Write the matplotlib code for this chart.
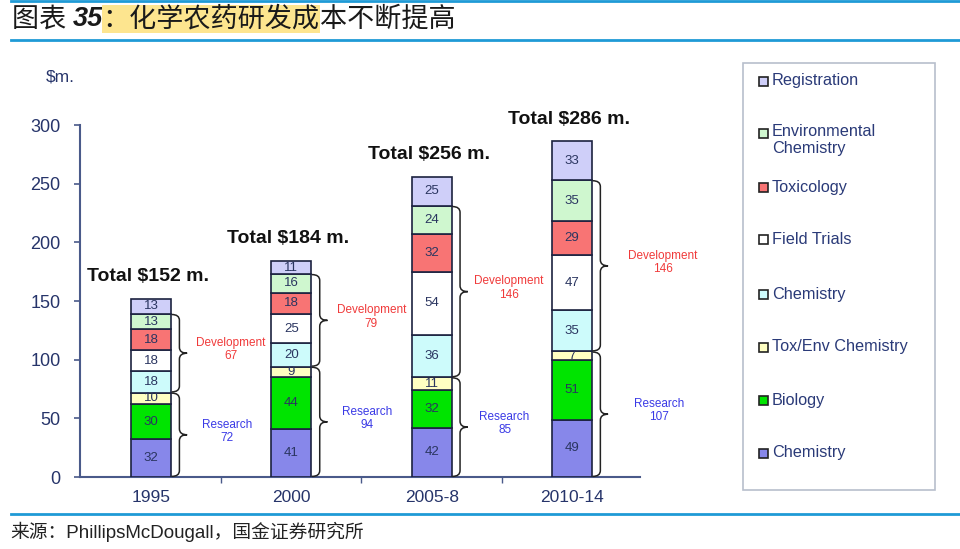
import matplotlib
matplotlib.use('Agg')
import matplotlib.pyplot as plt
from matplotlib.patches import Rectangle, PathPatch
from matplotlib.path import Path
from matplotlib.lines import Line2D
import numpy as np

# ---------------- data ----------------
categories = ['1995', '2000', '2005-8', '2010-14']
chem_research = [32, 41, 42, 49]
biology = [30, 44, 32, 51]
tox_env_chem = [10, 9, 11, 7]
chem_dev = [18, 20, 36, 35]
field_trials = [18, 25, 54, 47]
toxicology = [18, 18, 32, 29]
env_chem = [13, 16, 24, 35]
registration = [13, 11, 25, 33]
y_ticks = [0, 50, 100, 150, 200, 250, 300]

series = [chem_research, biology, tox_env_chem, chem_dev,
          field_trials, toxicology, env_chem, registration]
series_names = ['Chemistry', 'Biology', 'Tox/Env Chemistry', 'Chemistry',
                'Field Trials', 'Toxicology', 'Environmental\nChemistry', 'Registration']
colors = ['#8787ea', '#00e400', '#ffffc2', '#cdfbfb', '#ffffff',
          '#f87474', '#cff7cf', '#cfcff9']

research_tot = [a + b + c for a, b, c in zip(chem_research, biology, tox_env_chem)]
dev_tot = [a + b + c + d for a, b, c, d in zip(chem_dev, field_trials, toxicology, env_chem)]
totals = [r + d + g for r, d, g in zip(research_tot, dev_tot, registration)]

# ---------------- style ----------------
W, H = 960, 549
fig = plt.figure(figsize=(9.6, 5.49), dpi=100)
fig.patch.set_facecolor('white')

def fx(px):
    return px / W

def fy(py):
    return 1 - py / H

ax = fig.add_axes([fx(80), fy(477), fx(640) - fx(80), fy(125) - fy(477)])
tick_col = '#26346a'
edge = '#1c2240'
base_font = ['Liberation Sans', 'DejaVu Sans']

x = np.arange(len(categories))
bw = 0.285
bottom = np.zeros(len(categories))
for vals, col in zip(series, colors):
    ax.bar(x, vals, bw, bottom=bottom, color=col, edgecolor=edge, linewidth=1.2, zorder=3)
    for xi, b, v in zip(x, bottom, vals):
        ax.text(xi, b + v / 2, str(v), ha='center', va='center', fontsize=9.5,
                color='#2a3560', family=base_font, zorder=4)
    bottom = bottom + np.array(vals)

ax.set_xlim(-0.506, 3.485)
ax.set_ylim(0, 300)
ax.set_yticks(y_ticks)
ax.set_yticklabels([str(t) for t in y_ticks], family=base_font, fontsize=13, color=tick_col)
ax.set_xticks(x)
ax.set_xticklabels(categories, family=base_font, fontsize=12.5, color=tick_col)
ax.tick_params(axis='x', length=0, pad=9)
ax.tick_params(axis='y', length=4, width=1.2, color='#4a5a8a', pad=10, direction='out')
ax.set_xticks([0.5, 1.5, 2.5], minor=True)
ax.tick_params(axis='x', which='minor', length=4, width=1, color='#4a5a8a', direction='out')
for s in ['top', 'right']:
    ax.spines[s].set_visible(False)
for s in ['left', 'bottom']:
    ax.spines[s].set_color('#4a5a8a')
    ax.spines[s].set_linewidth(1.5)
ax.set_facecolor('white')

# $m. label
fig.text(fx(60), fy(77), '$m.', ha='center', va='center', fontsize=12.5,
         color=tick_col, family=base_font)

# totals
for xi, t in zip(x, totals):
    ax.annotate(f'Total ${t} m.', (xi, t), xytext=(-2, 10), textcoords='offset points',
                ha='center', va='bottom', fontsize=14, fontweight='bold',
                color='#111111', family=base_font, annotation_clip=False)

# braces
def brace(ax, x0, y0, y1, w, r):
    ym = (y0 + y1) / 2
    xm = x0 + w / 2
    verts = [(x0, y0), (xm, y0), (xm, y0 + r),
             (xm, ym - r), (xm, ym), (x0 + w, ym),
             (xm, ym), (xm, ym + r),
             (xm, y1 - r), (xm, y1), (x0, y1)]
    codes = [Path.MOVETO, Path.CURVE3, Path.CURVE3,
             Path.LINETO, Path.CURVE3, Path.CURVE3,
             Path.CURVE3, Path.CURVE3,
             Path.LINETO, Path.CURVE3, Path.CURVE3]
    p = PathPatch(Path(verts, codes), fill=False, edgecolor='#222222', lw=1.1,
                  zorder=5, clip_on=False)
    ax.add_patch(p)
    return ym

label_off = [0.54, 0.54, 0.52, 0.62]
for xi, rt, dt, off in zip(x, research_tot, dev_tot, label_off):
    x0 = xi + bw / 2 + 0.005
    ym = brace(ax, x0, 0.5, rt - 0.5, 0.11, 5)
    ax.text(xi + off, ym + 3, f'Research\n{rt}', ha='center', va='center', fontsize=8.5,
            color='#3a3ae6', family=base_font, linespacing=1.15)
    ym = brace(ax, x0, rt + 0.5, rt + dt - 0.5, 0.11, 5)
    ax.text(xi + off + 0.03, ym + 3, f'Development\n{dt}', ha='center', va='center',
            fontsize=8.5, color='#f03a3a', family=base_font, linespacing=1.15, clip_on=False)

# ---------------- legend (manual) ----------------
fig.add_artist(Rectangle((fx(743), fy(490)), fx(935) - fx(743), fy(63) - fy(490),
                         transform=fig.transFigure, facecolor='white',
                         edgecolor='#b8bfcc', lw=1.2))
leg_y = [453, 400, 347, 294, 240, 187, 133, 81]
for name, col, ly in zip(series_names, colors, leg_y):
    fig.add_artist(Rectangle((fx(759), fy(ly + 4.5)), fx(768) - fx(759), fy(ly - 4.5) - fy(ly + 4.5),
                             transform=fig.transFigure, facecolor=col,
                             edgecolor='#222222', lw=1.2))
    if '\n' in name:
        fig.text(fx(772), fy(ly - 9), name, ha='left', va='top', fontsize=11.7,
                 color='#2a3a78', family=base_font, linespacing=1.2)
    else:
        fig.text(fx(772), fy(ly), name, ha='left', va='center', fontsize=11.7,
                 color='#2a3a78', family=base_font)

# ---------------- title / frame lines / source ----------------
line_col = '#1f9ad6'
for py in [1, 40, 514]:
    fig.add_artist(Line2D([fx(11), 1], [fy(py), fy(py)], transform=fig.transFigure,
                          color=line_col, lw=2))

cjk = ['Noto Sans CJK SC', 'DejaVu Sans']
fig.canvas.draw()
rend = fig.canvas.get_renderer()
tx = fx(12)
ty = fy(19)
pieces = [('图表 ', None, 'normal', cjk), ('35', None, 'bold', ['Liberation Sans']),
          ('：化学农药研发成', '#fde58f', 'normal', cjk), ('本不断提高', None, 'normal', cjk)]
for txt, bg, wt, fam in pieces:
    t = fig.text(tx, ty, txt, ha='left', va='center', fontsize=19.5, fontweight=wt,
                 color='#1a1a1a', family=fam, fontstyle='italic')
    if bg:
        t.set_bbox(dict(facecolor=bg, edgecolor='none', pad=0.5))
    bb = t.get_window_extent(renderer=rend)
    tx = bb.x1 / fig.bbox.width

fig.text(fx(10), fy(532), '来源：PhillipsMcDougall，国金证券研究所', ha='left', va='center',
         fontsize=13.5, color='#222222', family=['Liberation Sans', 'Noto Sans CJK SC'])

fig.savefig('out.png', dpi=100)
